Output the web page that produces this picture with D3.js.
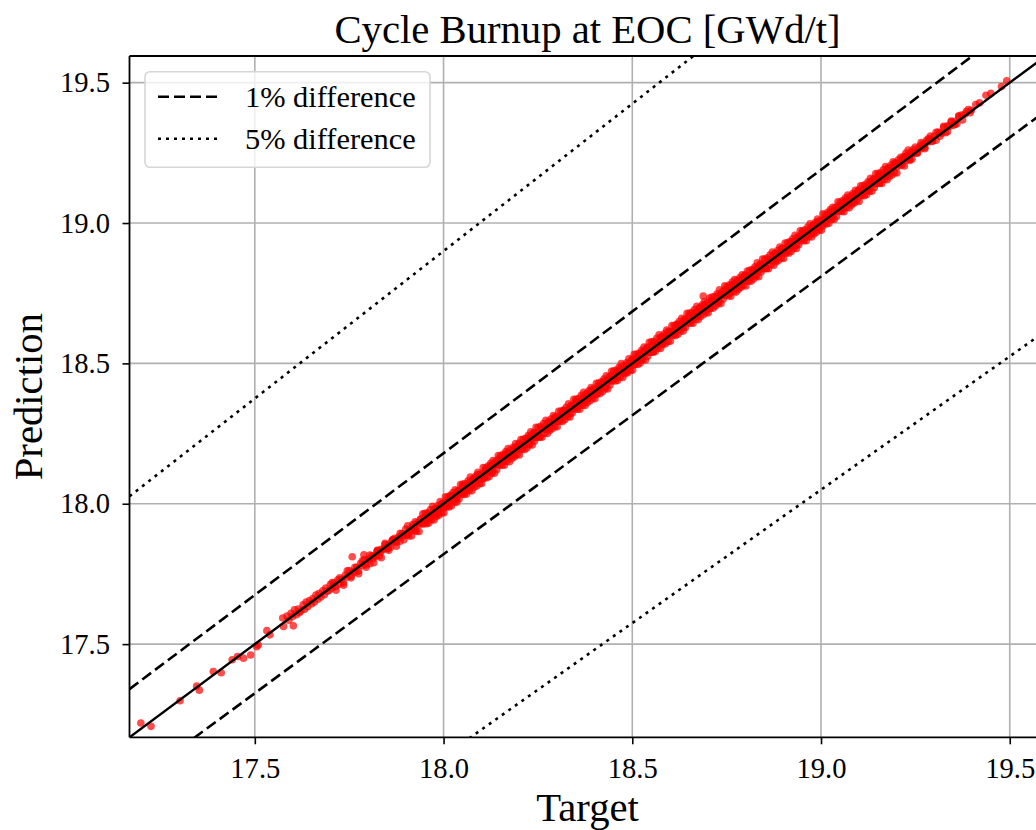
<!DOCTYPE html>
<html>
<head>
<meta charset="utf-8">
<script src="https://cdn.jsdelivr.net/npm/d3@7"></script>
<style>
  html, body { margin: 0; padding: 0; background: #fff; overflow: hidden; }
  svg { display: block; }
</style>
</head>
<body>
<div id="chart"></div>
<script>
// Target / prediction pairs
const target = [
  17.198,17.225,17.302,17.346,17.353,17.390,17.411,17.440,17.454,17.470,
  17.489,17.505,17.509,17.532,17.540,17.574,17.576,17.602,17.758,17.789,
  18.688,
  17.585,17.590,17.596,17.600,17.605,17.610,17.615,17.618,17.622,17.628,
  17.632,17.636,17.640,17.645,17.650,17.654,17.658,17.662,17.667,17.670,
  17.675,17.680,17.684,17.688,17.692,17.697,17.700,17.705,17.710,17.714,
  17.720,17.725,17.730,17.735,17.740,17.745,17.750,17.755,17.760,17.765,
  17.770,17.775,17.780,17.785,17.790,17.795,17.800,17.805,17.810,17.815,
  17.820,17.825,17.830,17.835,17.840,17.845,17.850,17.855,17.860,17.865,
  17.870,17.875,17.880,17.885,17.890,17.895,17.900,17.905,17.910,17.915,
  17.920,17.925,17.930,17.935,17.940,17.945,17.950,17.955,17.960,17.965,
  17.970,17.975,17.980,17.985,17.990,17.995,18.000,18.005,18.010,18.015,
  18.020,18.025,18.030,18.035,18.040,18.045,18.050,18.055,18.060,18.065,
  18.070,18.075,18.080,18.085,18.090,18.095,18.100,18.105,18.110,18.115,
  18.120,18.125,18.130,18.135,18.140,18.145,18.150,18.155,18.160,18.165,
  18.170,18.175,18.180,18.185,18.190,18.195,18.200,18.205,18.210,18.215,
  18.220,18.225,18.230,18.235,18.240,18.245,18.250,18.255,18.260,18.265,
  18.270,18.275,18.280,18.285,18.290,18.295,18.300,18.305,18.310,18.315,
  18.320,18.325,18.330,18.335,18.340,18.345,18.350,18.355,18.360,18.365,
  18.370,18.375,18.380,18.385,18.390,18.395,18.400,18.405,18.410,18.415,
  18.420,18.425,18.430,18.435,18.440,18.445,18.450,18.455,18.460,18.465,
  18.470,18.475,18.480,18.485,18.490,18.495,18.500,18.505,18.510,18.515,
  18.520,18.525,18.530,18.535,18.540,18.545,18.550,18.555,18.560,18.565,
  18.570,18.575,18.580,18.585,18.590,18.595,18.600,18.605,18.610,18.615,
  18.620,18.625,18.630,18.635,18.640,18.645,18.650,18.655,18.660,18.665,
  18.670,18.675,18.680,18.685,18.690,18.695,18.700,18.705,18.710,18.715,
  18.720,18.725,18.730,18.735,18.740,18.745,18.750,18.755,18.760,18.765,
  18.770,18.775,18.780,18.785,18.790,18.795,18.800,18.805,18.810,18.815,
  18.820,18.825,18.830,18.835,18.840,18.845,18.850,18.855,18.860,18.865,
  18.870,18.875,18.880,18.885,18.890,18.895,18.900,18.905,18.910,18.915,
  18.920,18.925,18.930,18.935,18.940,18.945,18.950,18.955,18.960,18.965,
  18.970,18.975,18.980,18.985,18.990,18.995,19.000,19.005,19.010,19.015,
  19.020,19.025,19.030,19.035,19.040,19.045,19.050,19.055,19.060,19.065,
  19.070,19.075,19.080,19.085,19.090,19.095,19.100,19.105,19.110,19.115,
  19.120,19.125,19.130,19.135,19.140,19.145,19.150,19.155,19.160,19.165,
  19.170,19.175,19.180,19.185,19.190,19.195,19.200,19.205,19.210,19.215,
  19.220,19.225,19.230,19.235,19.240,19.245,19.250,19.255,19.260,19.265,
  19.270,19.275,19.280,19.285,19.290,19.295,19.300,19.305,19.310,19.315,
  19.320,19.325,19.330,19.335,19.340,19.345,19.350,19.355,19.360,19.365,
  19.372,19.382,19.390,19.398,19.410,19.420,19.437,19.450,19.478,19.492,
  17.803,17.813,17.823,17.833,17.843,17.853,17.863,17.873,17.883,17.893,
  17.903,17.913,17.923,17.933,17.943,17.953,17.963,17.973,17.983,17.993,
  18.003,18.013,18.023,18.033,18.043,18.053,18.063,18.073,18.083,18.093,
  18.103,18.113,18.123,18.133,18.143,18.153,18.163,18.173,18.183,18.193,
  18.203,18.213,18.223,18.233,18.243,18.253,18.263,18.273,18.283,18.293,
  18.303,18.313,18.323,18.333,18.343,18.353,18.363,18.373,18.383,18.393,
  18.403,18.413,18.423,18.433,18.443,18.453,18.463,18.473,18.483,18.493,
  18.503,18.513,18.523,18.533,18.543,18.553,18.563,18.573,18.583,18.593,
  18.603,18.613,18.623,18.633,18.643,18.653,18.663,18.673,18.683,18.693,
  18.703,18.713,18.723,18.733,18.743,18.753,18.763,18.773,18.783,18.793,
  18.803,18.813,18.823,18.833,18.843,18.853,18.863,18.873,18.883,18.893,
  18.903,18.913,18.923,18.933,18.943,18.953,18.963,18.973,18.983,18.993,
  19.003,19.013,19.023,19.033,19.043,19.053,19.063,19.073,19.083,19.093,
  19.103,19.113,19.123,19.133,19.143,19.153,19.163,19.173,19.183,19.193,
  19.203,19.213,19.223,19.233,19.243,19.253,19.263,19.273,19.283,19.293,
  17.905,17.915,17.925,17.935,17.945,17.955,17.965,17.975,17.985,17.995,
  18.005,18.015,18.025,18.035,18.045,18.055,18.065,18.075,18.085,18.095,
  18.105,18.115,18.125,18.135,18.145,18.155,18.165,18.175,18.185,18.195,
  18.205,18.215,18.225,18.235,18.245,18.255,18.265,18.275,18.285,18.295,
  18.305,18.315,18.325,18.335,18.345,18.355,18.365,18.375,18.385,18.395,
  18.405,18.415,18.425,18.435,18.445,18.455,18.465,18.475,18.485,18.495,
  18.505,18.515,18.525,18.535,18.545,18.555,18.565,18.575,18.585,18.595,
  18.605,18.615,18.625,18.635,18.645,18.655,18.665,18.675,18.685,18.695,
  18.705,18.715,18.725,18.735,18.745,18.755,18.765,18.775,18.785,18.795,
  18.805,18.815,18.825,18.835,18.845,18.855,18.865,18.875,18.885,18.895,
  18.905,18.915,18.925,18.935,18.945,18.955,18.965,18.975,18.985,18.995,
  19.005,19.015,19.025,19.035,19.045,19.055,19.065,19.075,19.085,19.095,
  19.105,19.115,19.125,19.135,19.145,19.155,19.165,19.175,19.185,19.195,
  17.908,17.918,17.928,17.938,17.948,17.958,17.968,17.978,17.988,17.998,
  18.008,18.018,18.028,18.038,18.048,18.058,18.068,18.078,18.088,18.098,
  18.108,18.118,18.128,18.138,18.148,18.158,18.168,18.178,18.188,18.198,
  18.208,18.218,18.228,18.238,18.248,18.258,18.268,18.278,18.288,18.298,
  18.308,18.318,18.328,18.338,18.348,18.358,18.368,18.378,18.388,18.398,
  18.408,18.418,18.428,18.438,18.448,18.458,18.468,18.478,18.488,18.498,
  18.508,18.518,18.528,18.538,18.548,18.558,18.568,18.578,18.588,18.598,
  18.608,18.618,18.628,18.638,18.648,18.658,18.668,18.678,18.688,18.698,
  18.708,18.718,18.728,18.738,18.748,18.758,18.768,18.778,18.788,18.798,
  18.808,18.818,18.828,18.838,18.848,18.858,18.868,18.878,18.888,18.898,
  18.908,18.918,18.928,18.938,18.948,18.958,18.968,18.978,18.988,18.998,
  19.008,19.018,19.028,19.038,19.048,19.058,19.068,19.078,19.088,19.098,
  19.108,19.118,19.128,19.138,19.148,19.158,19.168,19.178,19.188,19.198,
  19.205,19.215,19.225,19.235,19.245,19.255,19.265,19.275,19.285,19.295,
  19.305,19.315,19.325,19.335,19.345,19.355,19.365,19.375,19.385,19.395,
  17.705,17.715,17.725,17.735,17.745,17.755,17.765,17.775,17.785,17.795,
  17.805,17.815,17.825,17.835,17.845,17.855,17.865,17.875,17.885,17.895,
  17.951,17.961,17.971,17.981,17.991,18.001,18.011,18.021,18.031,18.041,
  18.051,18.061,18.071,18.081,18.091,18.101,18.111,18.121,18.131,18.141,
  18.151,18.161,18.171,18.181,18.191,18.201,18.211,18.221,18.231,18.241,
  18.251,18.261,18.271,18.281,18.291,18.301,18.311,18.321,18.331,18.341,
  18.351,18.361,18.371,18.381,18.391,18.401,18.411,18.421,18.431,18.441,
  18.451,18.461,18.471,18.481,18.491,18.501,18.511,18.521,18.531,18.541,
  18.551,18.561,18.571,18.581,18.591,18.601,18.611,18.621,18.631,18.641,
  18.651,18.661,18.671,18.681,18.691,18.701,18.711,18.721,18.731,18.741,
  18.751,18.761,18.771,18.781,18.791,18.801,18.811,18.821,18.831,18.841,
  18.851,18.861,18.871,18.881,18.891,18.901,18.911,18.921,18.931,18.941,
  18.951,18.961,18.971,18.981,18.991,19.001,19.011,19.021,19.031,19.041,
  19.051,19.061,19.071,19.081,19.091,19.101,19.111,19.121,19.131,19.141,
  19.151,19.161,19.171,19.181,19.191,19.201,19.211,19.221,19.231,19.241
];

const prediction = [
  17.219,17.207,17.298,17.351,17.336,17.402,17.398,17.444,17.456,17.450,
  17.461,17.491,17.497,17.548,17.533,17.593,17.563,17.565,17.811,17.818,
  18.740,
  17.600,17.585,17.610,17.598,17.622,17.605,17.625,17.612,17.618,17.640,
  17.624,17.650,17.633,17.655,17.643,17.662,17.650,17.675,17.660,17.680,
  17.668,17.690,17.676,17.700,17.688,17.692,17.712,17.700,17.718,17.705,
  17.729,17.714,17.731,17.718,17.746,17.739,17.762,17.742,17.758,17.756,
  17.774,17.760,17.787,17.780,17.801,17.783,17.800,17.786,17.815,17.812,
  17.812,17.833,17.814,17.838,17.836,17.855,17.840,17.854,17.846,17.871,
  17.877,17.862,17.879,17.866,17.894,17.887,17.910,17.890,17.906,17.904,
  17.919,17.905,17.932,17.925,17.946,17.928,17.945,17.935,17.960,17.957,
  17.957,17.978,17.961,17.983,17.981,18.000,17.985,17.999,17.991,18.016,
  18.028,18.013,18.030,18.017,18.045,18.038,18.061,18.041,18.057,18.055,
  18.077,18.063,18.090,18.083,18.104,18.086,18.103,18.089,18.118,18.115,
  18.115,18.136,18.117,18.141,18.139,18.158,18.143,18.157,18.149,18.174,
  18.182,18.167,18.184,18.171,18.199,18.192,18.215,18.195,18.211,18.209,
  18.227,18.213,18.240,18.233,18.254,18.236,18.253,18.239,18.268,18.265,
  18.265,18.286,18.267,18.291,18.289,18.308,18.293,18.307,18.299,18.324,
  18.332,18.317,18.334,18.321,18.349,18.342,18.365,18.345,18.361,18.359,
  18.377,18.363,18.390,18.383,18.404,18.386,18.403,18.389,18.418,18.415,
  18.415,18.436,18.417,18.441,18.439,18.458,18.443,18.457,18.449,18.474,
  18.482,18.467,18.484,18.471,18.499,18.492,18.515,18.495,18.511,18.509,
  18.530,18.516,18.543,18.536,18.557,18.539,18.556,18.542,18.571,18.568,
  18.571,18.592,18.573,18.597,18.595,18.614,18.599,18.613,18.605,18.630,
  18.638,18.623,18.640,18.627,18.655,18.648,18.669,18.651,18.667,18.665,
  18.683,18.669,18.696,18.689,18.708,18.692,18.709,18.695,18.724,18.721,
  18.719,18.740,18.721,18.745,18.743,18.762,18.747,18.761,18.753,18.778,
  18.782,18.767,18.784,18.771,18.799,18.792,18.815,18.795,18.811,18.809,
  18.827,18.813,18.840,18.833,18.854,18.836,18.853,18.839,18.868,18.865,
  18.865,18.886,18.867,18.891,18.889,18.908,18.893,18.907,18.899,18.924,
  18.932,18.917,18.934,18.921,18.949,18.942,18.965,18.945,18.961,18.959,
  18.977,18.963,18.990,18.983,19.004,18.986,19.003,18.989,19.018,19.015,
  19.018,19.039,19.020,19.044,19.042,19.061,19.046,19.060,19.052,19.077,
  19.085,19.070,19.087,19.074,19.102,19.095,19.118,19.098,19.114,19.112,
  19.131,19.117,19.144,19.137,19.158,19.140,19.157,19.143,19.172,19.169,
  19.171,19.192,19.173,19.197,19.195,19.214,19.199,19.213,19.205,19.230,
  19.238,19.223,19.240,19.227,19.255,19.248,19.271,19.251,19.267,19.265,
  19.283,19.269,19.296,19.289,19.310,19.292,19.309,19.295,19.324,19.321,
  19.320,19.341,19.322,19.346,19.344,19.363,19.348,19.362,19.354,19.379,
  19.385,19.388,19.404,19.402,19.422,19.428,19.455,19.462,19.486,19.507,
  17.803,17.805,17.828,17.828,17.841,17.841,17.866,17.866,17.882,17.889,
  17.892,17.910,17.908,17.929,17.935,17.954,17.949,17.967,17.967,17.990,
  18.003,18.005,18.028,18.028,18.041,18.041,18.066,18.066,18.082,18.089,
  18.100,18.118,18.116,18.137,18.143,18.162,18.157,18.175,18.175,18.198,
  18.206,18.208,18.231,18.231,18.244,18.244,18.269,18.269,18.285,18.292,
  18.300,18.318,18.316,18.337,18.343,18.362,18.357,18.375,18.375,18.398,
  18.406,18.408,18.431,18.431,18.444,18.444,18.469,18.469,18.485,18.492,
  18.503,18.521,18.519,18.540,18.546,18.565,18.560,18.578,18.578,18.601,
  18.612,18.614,18.637,18.637,18.650,18.650,18.675,18.675,18.691,18.698,
  18.704,18.722,18.720,18.741,18.747,18.766,18.761,18.779,18.779,18.802,
  18.806,18.808,18.831,18.831,18.844,18.844,18.869,18.869,18.885,18.892,
  18.900,18.918,18.916,18.937,18.943,18.962,18.957,18.975,18.975,18.998,
  19.009,19.011,19.034,19.034,19.047,19.047,19.072,19.072,19.088,19.095,
  19.105,19.123,19.121,19.142,19.148,19.167,19.162,19.180,19.180,19.203,
  19.212,19.214,19.237,19.237,19.250,19.250,19.275,19.275,19.291,19.298,
  17.921,17.885,17.936,17.901,17.964,17.929,17.978,17.942,17.994,17.967,
  18.025,17.989,18.040,18.005,18.068,18.033,18.082,18.046,18.098,18.071,
  18.129,18.093,18.144,18.109,18.172,18.137,18.186,18.150,18.202,18.175,
  18.229,18.193,18.244,18.209,18.272,18.237,18.286,18.250,18.302,18.275,
  18.329,18.293,18.344,18.309,18.372,18.337,18.386,18.350,18.402,18.375,
  18.429,18.393,18.444,18.409,18.472,18.437,18.486,18.450,18.502,18.475,
  18.532,18.496,18.547,18.512,18.575,18.540,18.589,18.553,18.605,18.578,
  18.635,18.599,18.650,18.615,18.678,18.643,18.692,18.656,18.708,18.681,
  18.733,18.697,18.748,18.713,18.776,18.741,18.790,18.754,18.806,18.779,
  18.829,18.793,18.844,18.809,18.872,18.837,18.886,18.850,18.902,18.875,
  18.929,18.893,18.944,18.909,18.972,18.937,18.986,18.950,19.002,18.975,
  19.033,18.997,19.048,19.013,19.076,19.041,19.090,19.054,19.106,19.079,
  19.133,19.097,19.148,19.113,19.176,19.141,19.190,19.154,19.206,19.179,
  17.885,17.926,17.901,17.943,17.929,17.968,17.943,17.984,17.959,18.002,
  17.989,18.030,18.005,18.047,18.033,18.072,18.047,18.088,18.063,18.106,
  18.093,18.134,18.109,18.151,18.137,18.176,18.151,18.192,18.167,18.210,
  18.193,18.234,18.209,18.251,18.237,18.276,18.251,18.292,18.267,18.310,
  18.293,18.334,18.309,18.351,18.337,18.376,18.351,18.392,18.367,18.410,
  18.393,18.434,18.409,18.451,18.437,18.476,18.451,18.492,18.467,18.510,
  18.496,18.537,18.512,18.554,18.540,18.579,18.554,18.595,18.570,18.613,
  18.599,18.640,18.615,18.657,18.643,18.682,18.657,18.698,18.673,18.716,
  18.697,18.738,18.713,18.755,18.741,18.780,18.755,18.796,18.771,18.814,
  18.793,18.834,18.809,18.851,18.837,18.876,18.851,18.892,18.867,18.910,
  18.893,18.934,18.909,18.951,18.937,18.976,18.951,18.992,18.967,19.010,
  18.997,19.038,19.013,19.055,19.041,19.080,19.055,19.096,19.071,19.114,
  19.097,19.138,19.113,19.155,19.141,19.180,19.155,19.196,19.171,19.214,
  19.225,19.207,19.249,19.223,19.263,19.249,19.287,19.265,19.301,19.291,
  19.323,19.309,19.345,19.325,19.360,19.351,19.382,19.367,19.397,19.393,
  17.719,17.692,17.736,17.710,17.761,17.736,17.774,17.751,17.797,17.774,
  17.817,17.790,17.834,17.808,17.859,17.834,17.872,17.849,17.895,17.872,
  17.966,17.931,17.991,17.955,18.008,17.968,18.024,17.993,18.050,18.017,
  18.070,18.035,18.095,18.059,18.112,18.072,18.128,18.097,18.154,18.121,
  18.172,18.137,18.197,18.161,18.214,18.174,18.230,18.199,18.256,18.223,
  18.272,18.237,18.297,18.261,18.314,18.274,18.330,18.299,18.356,18.323,
  18.372,18.337,18.397,18.361,18.414,18.374,18.430,18.399,18.456,18.423,
  18.474,18.439,18.499,18.463,18.516,18.476,18.532,18.501,18.558,18.525,
  18.577,18.542,18.602,18.566,18.619,18.579,18.635,18.604,18.661,18.628,
  18.678,18.643,18.703,18.667,18.720,18.680,18.736,18.705,18.762,18.729,
  18.774,18.739,18.799,18.763,18.816,18.776,18.832,18.801,18.858,18.825,
  18.872,18.837,18.897,18.861,18.914,18.874,18.930,18.899,18.956,18.923,
  18.972,18.937,18.997,18.961,19.014,18.974,19.030,18.999,19.056,19.023,
  19.075,19.040,19.100,19.064,19.117,19.077,19.133,19.102,19.159,19.126,
  19.176,19.141,19.201,19.165,19.218,19.178,19.234,19.203,19.260,19.227
];

const axisLimits = [17.168, 19.595];
const xTicks = [17.5, 18.0, 18.5, 19.0, 19.5];
const yTicks = [17.5, 18.0, 18.5, 19.0, 19.5];
const differences = [0.01, 0.05];
const legendLabels = ['1% difference', '5% difference'];
const titleText = 'Cycle Burnup at EOC [GWd/t]';
const xLabel = 'Target';
const yLabel = 'Prediction';

// pick a Times-like face that is really installed
function pickFont(candidates, fallback) {
  const ctx = document.createElement('canvas').getContext('2d');
  const probe = 'Cycle Burnup 19.5 difference';
  ctx.font = '40px monospace';
  const base = ctx.measureText(probe).width;
  for (const c of candidates) {
    ctx.font = `40px "${c}", monospace`;
    if (Math.abs(ctx.measureText(probe).width - base) > 0.5) return `"${c}", ${fallback}`;
  }
  return fallback;
}
const fontFamily = pickFont(
  ['Liberation Serif', 'Times New Roman', 'Tinos', 'Nimbus Roman', 'FreeSerif', 'DejaVu Serif'],
  'serif');

const width = 1036;
const height = 830;
// plot area runs past the right edge of the picture
const plot = { left: 129.5, right: 1045.6, top: 56, bottom: 737.3 };

const svg = d3.select('#chart').append('svg')
  .attr('width', width)
  .attr('height', height)
  .style('font-family', fontFamily);

const x = d3.scaleLinear().domain(axisLimits).range([plot.left, plot.right]);
const y = d3.scaleLinear().domain(axisLimits).range([plot.bottom, plot.top]);

svg.append('clipPath').attr('id', 'plot-clip')
  .append('rect')
  .attr('x', plot.left).attr('y', plot.top)
  .attr('width', plot.right - plot.left).attr('height', plot.bottom - plot.top);

// grid
const grid = svg.append('g').attr('stroke', '#b0b0b0').attr('stroke-width', 1.6);
grid.selectAll('.gx').data(xTicks).enter().append('line')
  .attr('x1', d => x(d)).attr('x2', d => x(d))
  .attr('y1', plot.top).attr('y2', plot.bottom);
grid.selectAll('.gy').data(yTicks).enter().append('line')
  .attr('y1', d => y(d)).attr('y2', d => y(d))
  .attr('x1', plot.left).attr('x2', plot.right);

const inner = svg.append('g').attr('clip-path', 'url(#plot-clip)');

// scatter
inner.append('g').selectAll('circle')
  .data(d3.zip(target, prediction))
  .enter().append('circle')
  .attr('cx', d => x(d[0]))
  .attr('cy', d => y(d[1]))
  .attr('r', 3.8)
  .attr('fill', 'red')
  .attr('fill-opacity', 0.7);

// reference lines
const line = d3.line().x(d => x(d[0])).y(d => y(d[1]));
const lineStyles = [
  { dash: '11,5' },
  { dash: '3,5' },
];
differences.forEach((f, i) => {
  [1 + f, 1 - f].forEach(k => {
    inner.append('path')
      .attr('d', line(axisLimits.map(v => [v, v * k])))
      .attr('fill', 'none')
      .attr('stroke', '#000')
      .attr('stroke-width', 2.6)
      .attr('stroke-dasharray', lineStyles[i].dash);
  });
});
inner.append('path')
  .attr('d', line(axisLimits.map(v => [v, v])))
  .attr('fill', 'none')
  .attr('stroke', '#000')
  .attr('stroke-width', 2.4);

// axes
const xAxis = svg.append('g')
  .attr('transform', `translate(0,${plot.bottom})`)
  .call(d3.axisBottom(x).tickValues(xTicks).tickFormat(d3.format('.1f'))
    .tickSize(7).tickPadding(13.7).tickSizeOuter(0));
const yAxis = svg.append('g')
  .attr('transform', `translate(${plot.left},0)`)
  .call(d3.axisLeft(y).tickValues(yTicks).tickFormat(d3.format('.1f'))
    .tickSize(7).tickPadding(12.5).tickSizeOuter(0));
[xAxis, yAxis].forEach(a => {
  a.attr('font-family', null).attr('font-size', null);
  a.select('.domain').remove();
  a.selectAll('line').attr('stroke', '#000').attr('stroke-width', 1.6);
  a.selectAll('text')
    .attr('fill', '#000')
    .style('font-size', '28.6px');
});

// spines
const spines = svg.append('g').attr('stroke', '#000').attr('stroke-width', 1.8);
spines.append('line').attr('x1', plot.left).attr('x2', plot.left).attr('y1', plot.top).attr('y2', plot.bottom);
spines.append('line').attr('x1', plot.right).attr('x2', plot.right).attr('y1', plot.top).attr('y2', plot.bottom);
spines.append('line').attr('x1', plot.left).attr('x2', plot.right).attr('y1', plot.top).attr('y2', plot.top);
spines.append('line').attr('x1', plot.left).attr('x2', plot.right).attr('y1', plot.bottom).attr('y2', plot.bottom);

// title and labels
const cx = (plot.left + plot.right) / 2;
svg.append('text')
  .attr('x', cx).attr('y', 43)
  .attr('text-anchor', 'middle')
  .style('font-size', '40.7px')
  .text(titleText);
svg.append('text')
  .attr('x', cx).attr('y', 821)
  .attr('text-anchor', 'middle')
  .style('font-size', '40.7px')
  .text(xLabel);
svg.append('text')
  .attr('transform', `translate(42,${(plot.top + plot.bottom) / 2}) rotate(-90)`)
  .attr('text-anchor', 'middle')
  .style('font-size', '40.7px')
  .text(yLabel);

// legend
const legend = svg.append('g');
legend.append('rect')
  .attr('x', 145).attr('y', 71.7)
  .attr('width', 285).attr('height', 95.6)
  .attr('rx', 5)
  .attr('fill', '#fff').attr('fill-opacity', 0.8)
  .attr('stroke', '#d6d6d6').attr('stroke-width', 1.6);
legendLabels.forEach((label, i) => {
  const ly = 96.7 + i * 42;
  legend.append('line')
    .attr('x1', 158).attr('x2', 220)
    .attr('y1', ly).attr('y2', ly)
    .attr('stroke', '#000').attr('stroke-width', 2.6)
    .attr('stroke-dasharray', lineStyles[i].dash);
  legend.append('text')
    .attr('x', 245).attr('y', ly + 10)
    .style('font-size', '30.4px')
    .text(label);
});
</script>
</body>
</html>
